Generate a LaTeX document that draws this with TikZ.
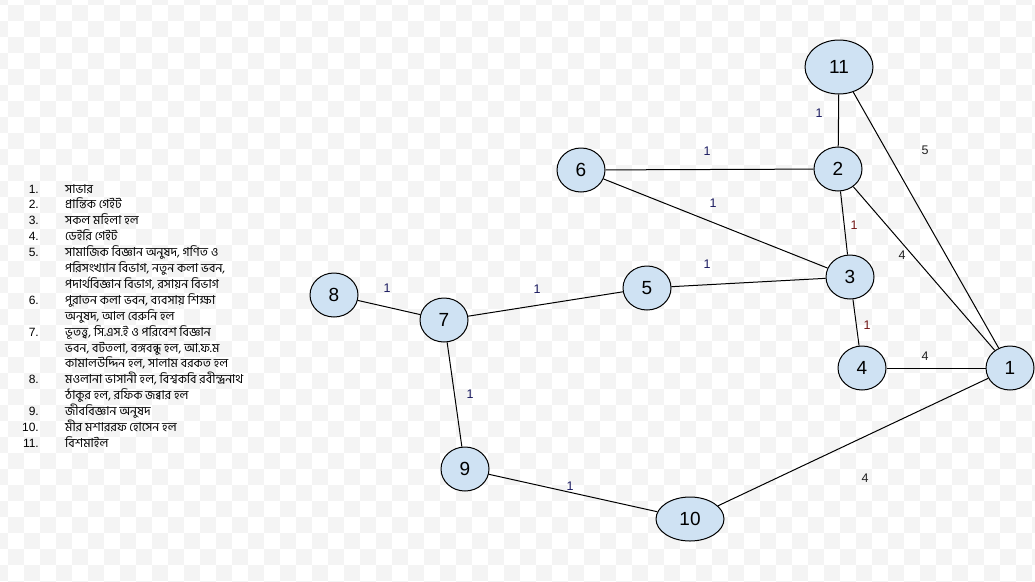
\documentclass[tikz,border=0pt]{standalone}
\usepackage{fontspec}
\setmainfont{Liberation Sans}
\newfontfamily\bnfont[Script=Bengali]{Hind Siliguri}
\usetikzlibrary{shapes.geometric}
\definecolor{nodefill}{HTML}{CFE2F3}
\definecolor{checkgray}{HTML}{F4F4F4}
\definecolor{lblnavy}{HTML}{1A1A60}
\definecolor{lblred}{HTML}{701515}
\definecolor{lbldark}{HTML}{222222}
\tikzset{
  vtx/.style={ellipse, draw=black, line width=1pt, fill=nodefill, inner sep=0pt,
    minimum width=48pt, minimum height=44pt, font=\fontsize{19}{19}\selectfont},
  wide/.style={minimum width=68pt},
  tall/.style={minimum height=54pt},
  edge/.style={line width=1pt, black},
  wlbl/.style={inner sep=0pt, font=\fontsize{12.5}{12.5}\selectfont, text=lblnavy},
  wred/.style={wlbl, text=lblred},
  wdark/.style={wlbl, text=lbldark},
  lnum/.style={anchor=base east, inner sep=0pt, font=\fontsize{12}{12}\selectfont},
  ltxt/.style={anchor=base west, inner sep=0pt, font=\bnfont\fontsize{12.3}{12.3}\selectfont},
}
\begin{document}
\begin{tikzpicture}[x=1pt, y=-1pt]
  % canvas and checkerboard background
  \useasboundingbox (0,0) rectangle (1035,581);
  \fill[white] (0,0) rectangle (1035,581);
  \begin{scope}
    \clip (0,0) rectangle (1035,581);
    \foreach \j in {0,...,37}{
      \pgfmathtruncatemacro\s{mod(\j,2)}
      \pgfmathtruncatemacro\t{\s+2}
      \foreach \i in {\s,\t,...,66}{
        \fill[checkgray] (\i*16-8, \j*16-11) rectangle ++(16,16);
      }
    }
  \end{scope}

  % vertices
  \node[vtx] (n1) at (1010,368) {1};
  \node[vtx] (n2) at (838,169) {2};
  \node[vtx] (n3) at (850,277) {3};
  \node[vtx] (n4) at (862,368) {4};
  \node[vtx] (n5) at (647,288) {5};
  \node[vtx] (n6) at (581,170) {6};
  \node[vtx] (n7) at (444,320) {7};
  \node[vtx] (n8) at (334,295) {8};
  \node[vtx] (n9) at (465,469) {9};
  \node[vtx, wide] (n10) at (690,519) {10};
  \node[vtx, wide, tall] (n11) at (839,67) {11};

  % edges
  \draw[edge] (n11) -- (n2);
  \draw[edge] (n6) -- (n2);
  \draw[edge] (n6) -- (n3);
  \draw[edge] (n2) -- (n3);
  \draw[edge] (n11) -- (n1);
  \draw[edge] (n2) -- (n1);
  \draw[edge] (n5) -- (n3);
  \draw[edge] (n3) -- (n4);
  \draw[edge] (n4) -- (n1);
  \draw[edge] (n8) -- (n7);
  \draw[edge] (n7) -- (n5);
  \draw[edge] (n7) -- (n9);
  \draw[edge] (n9) -- (n10);
  \draw[edge] (n10) -- (n1);

  % edge weights
  \node[wlbl]  (w11-2) at (819,113) {1};
  \node[wlbl]  (w6-2)  at (707,151) {1};
  \node[wlbl]  (w6-3)  at (713,203) {1};
  \node[wred]  (w2-3)  at (854,225) {1};
  \node[wdark] (w11-1) at (925,150) {5};
  \node[wdark] (w2-1)  at (902,255) {4};
  \node[wlbl]  (w5-3)  at (707,264) {1};
  \node[wred]  (w3-4)  at (867,325) {1};
  \node[wdark] (w4-1)  at (925,356) {4};
  \node[wlbl]  (w8-7)  at (387,288) {1};
  \node[wlbl]  (w7-5)  at (537,289) {1};
  \node[wlbl]  (w7-9)  at (470,394) {1};
  \node[wlbl]  (w9-10) at (570,486) {1};
  \node[wdark] (w10-1) at (865,478) {4};

  % legend
  \foreach \k/\n/\txt in {
     1/1./সাভার,
     2/2./প্রান্তিক গেইট,
     3/3./সকল মহিলা হল,
     4/4./ডেইরি গেইট,
     5/5./{সামাজিক বিজ্ঞান অনুষদ, গণিত ও},
     6//{পরিসংখ্যান বিভাগ, নতুন কলা ভবন,},
     7//{পদার্থবিজ্ঞান বিভাগ, রসায়ন বিভাগ},
     8/6./{পুরাতন কলা ভবন, ব্যবসায় শিক্ষা},
     9//{অনুষদ, আল বেরুনি হল},
    10/7./{ভূতত্ত্ব, সি.এস.ই ও পরিবেশ বিজ্ঞান},
    11//{ভবন, বটতলা, বঙ্গবন্ধু হল, আ.ফ.ম},
    12//{কামালউদ্দিন হল, সালাম বরকত হল},
    13/8./{মওলানা ভাসানী হল, বিশ্বকবি রবীন্দ্রনাথ},
    14//{ঠাকুর হল, রফিক জব্বার হল},
    15/9./জীববিজ্ঞান অনুষদ,
    16/10./মীর মশাররফ হোসেন হল,
    17/11./বিশমাইল}{
    \node[lnum] (num\k) at (39, 193+15.9*\k-15.9) {\n};
    \node[ltxt] (txt\k) at (65, 193+15.9*\k-15.9) {\txt};
  }
\end{tikzpicture}
\end{document}
